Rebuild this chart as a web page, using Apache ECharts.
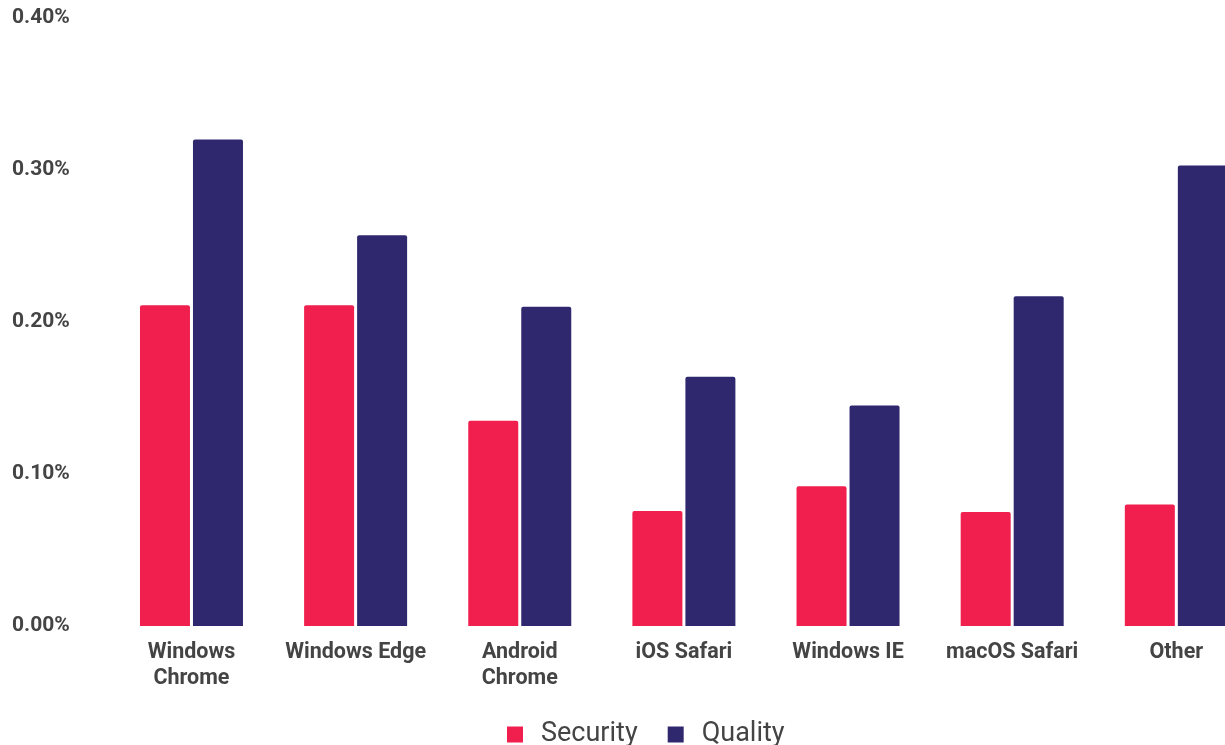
<!DOCTYPE html>
<html>
<head>
<meta charset="utf-8">
<script src="https://cdn.jsdelivr.net/npm/echarts@6/dist/echarts.min.js"></script>
<style>
html,body{margin:0;padding:0;background:#fff;}
#chart{width:1225px;height:745px;}
</style>
</head>
<body>
<div id="chart"></div>
<script>
const categories = ['Windows\nChrome', 'Windows Edge', 'Android\nChrome', 'iOS Safari', 'Windows IE', 'macOS Safari', 'Other'];
const security = [0.211, 0.211, 0.135, 0.0757, 0.092, 0.075, 0.080];
const quality = [0.320, 0.257, 0.210, 0.164, 0.145, 0.217, 0.303];
const yTicks = [0, 0.1, 0.2, 0.3, 0.4];

const chart = echarts.init(document.getElementById('chart'));
chart.setOption({
  animation: false,
  textStyle: { fontFamily: 'Roboto' },
  grid: { left: 109.4, width: 1149, top: 18, bottom: 119, containLabel: false, outerBoundsMode: 'none' },
  legend: {
    top: 716,
    left: 502,
    itemWidth: 16, itemHeight: 16, itemGap: 30,
    icon: 'rect',
    textStyle: { fontSize: 27, color: '#444', fontFamily: 'Roboto', padding: [0, 0, 0, 13] },
    data: ['Security', 'Quality']
  },
  xAxis: {
    type: 'category',
    data: categories,
    axisLine: { show: false },
    axisTick: { show: false },
    axisLabel: { fontSize: 21.5, fontWeight: 'bold', color: '#444', margin: 14, lineHeight: 26, interval: 0 }
  },
  yAxis: {
    type: 'value',
    min: 0, max: 0.4, interval: 0.1,
    splitLine: { show: false },
    axisLine: { show: false },
    axisTick: { show: false },
    axisLabel: {
      align: 'left', margin: 97.4, fontSize: 21, fontWeight: 'bold', color: '#444',
      padding: [6, 0, 0, 0],
      formatter: v => v.toFixed(2) + '%'
    }
  },
  series: [
    { name: 'Security', type: 'bar', data: security, barWidth: 50, barGap: '6%', itemStyle: { color: '#F01F4E', borderRadius: [2, 2, 0, 0] } },
    { name: 'Quality', type: 'bar', data: quality, barWidth: 50, itemStyle: { color: '#30286F', borderRadius: [2, 2, 0, 0] } }
  ]
});
</script>
</body>
</html>
